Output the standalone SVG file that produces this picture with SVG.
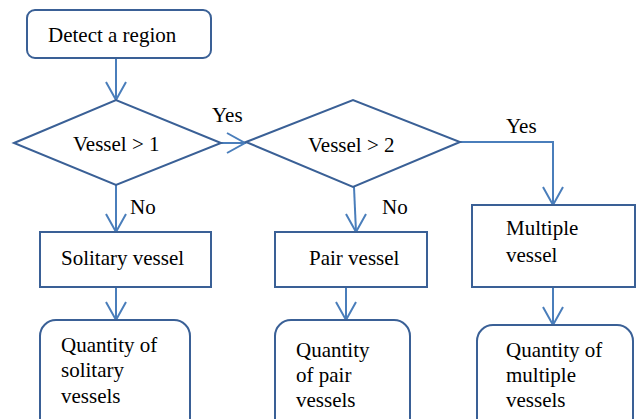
<svg xmlns="http://www.w3.org/2000/svg" width="636" height="419" viewBox="0 0 636 419">
<rect width="636" height="419" fill="#fff"/>
<g id="connectors" fill="none" stroke="#4A7EBB" stroke-width="2">
<line x1="116" y1="59" x2="116" y2="100"/>
<polyline points="106,82 116,100 126,82"/>
<line x1="221" y1="143" x2="246" y2="143"/>
<polyline points="227,133 245,143 227,153"/>
<line x1="116" y1="185" x2="116" y2="232"/>
<polyline points="106,214 116,232 126,214"/>
<polyline points="460,142 553,142 553,205"/>
<polyline points="543,187 553,205 563,187"/>
<line x1="354" y1="187" x2="356" y2="232"/>
<polyline points="346,214 356,232 366,214"/>
<line x1="116" y1="287" x2="116" y2="320"/>
<polyline points="106,302 116,320 126,302"/>
<line x1="346" y1="287" x2="346" y2="320"/>
<polyline points="336,302 346,320 356,302"/>
<line x1="553" y1="287" x2="553" y2="325"/>
<polyline points="543,307 553,325 563,307"/>
</g>
<g id="labels">
<text x="212" y="122" font-family="Times New Roman" font-size="21" style="font-family:Liberation Serif, Times New Roman, serif !important">Yes</text>
<text x="130" y="214" font-family="Times New Roman" font-size="21" style="font-family:Liberation Serif, Times New Roman, serif !important">No</text>
<text x="506" y="133" font-family="Times New Roman" font-size="21" style="font-family:Liberation Serif, Times New Roman, serif !important">Yes</text>
<text x="382" y="214" font-family="Times New Roman" font-size="21" style="font-family:Liberation Serif, Times New Roman, serif !important">No</text>
</g>
<g id="detect">
<rect x="27" y="10" width="184" height="48" rx="8" fill="#fff" stroke="#3A6096" stroke-width="2"/>
<text x="48" y="42" font-family="Times New Roman" font-size="21" style="font-family:Liberation Serif, Times New Roman, serif !important">Detect a region</text>
</g>
<g id="vessel1">
<polygon points="14,143 116,100 221,143 116,185" fill="#fff" stroke="#3A6096" stroke-width="2"/>
<text x="73" y="151" font-family="Times New Roman" font-size="21" style="font-family:Liberation Serif, Times New Roman, serif !important">Vessel &gt; 1</text>
</g>
<g id="vessel2">
<polygon points="246,142 353,100 460,142 353,187" fill="#fff" stroke="#3A6096" stroke-width="2"/>
<text x="308" y="152" font-family="Times New Roman" font-size="21" style="font-family:Liberation Serif, Times New Roman, serif !important">Vessel &gt; 2</text>
</g>
<g id="solitary">
<rect x="40" y="232" width="171" height="55" fill="#fff" stroke="#3A6096" stroke-width="2"/>
<text x="61" y="265" font-family="Times New Roman" font-size="21" style="font-family:Liberation Serif, Times New Roman, serif !important">Solitary vessel</text>
</g>
<g id="pair">
<rect x="275" y="232" width="152" height="55" fill="#fff" stroke="#3A6096" stroke-width="2"/>
<text x="309" y="265" font-family="Times New Roman" font-size="21" style="font-family:Liberation Serif, Times New Roman, serif !important">Pair vessel</text>
</g>
<g id="multiple">
<rect x="472" y="205" width="163" height="82" fill="#fff" stroke="#3A6096" stroke-width="2"/>
<text x="506" y="235" font-family="Times New Roman" font-size="21" style="font-family:Liberation Serif, Times New Roman, serif !important">Multiple</text>
<text x="506" y="262" font-family="Times New Roman" font-size="21" style="font-family:Liberation Serif, Times New Roman, serif !important">vessel</text>
</g>
<g id="qsolitary">
<rect x="40" y="320" width="150" height="120" rx="16" fill="#fff" stroke="#3A6096" stroke-width="2"/>
<text x="61" y="352" font-family="Times New Roman" font-size="21" style="font-family:Liberation Serif, Times New Roman, serif !important">Quantity of</text>
<text x="61" y="377" font-family="Times New Roman" font-size="21" style="font-family:Liberation Serif, Times New Roman, serif !important">solitary</text>
<text x="61" y="403" font-family="Times New Roman" font-size="21" style="font-family:Liberation Serif, Times New Roman, serif !important">vessels</text>
</g>
<g id="qpair">
<rect x="275" y="320" width="135" height="120" rx="16" fill="#fff" stroke="#3A6096" stroke-width="2"/>
<text x="296" y="357" font-family="Times New Roman" font-size="21" style="font-family:Liberation Serif, Times New Roman, serif !important">Quantity</text>
<text x="296" y="382" font-family="Times New Roman" font-size="21" style="font-family:Liberation Serif, Times New Roman, serif !important">of pair</text>
<text x="296" y="407" font-family="Times New Roman" font-size="21" style="font-family:Liberation Serif, Times New Roman, serif !important">vessels</text>
</g>
<g id="qmultiple">
<rect x="477" y="325" width="156" height="120" rx="16" fill="#fff" stroke="#3A6096" stroke-width="2"/>
<text x="506" y="357" font-family="Times New Roman" font-size="21" style="font-family:Liberation Serif, Times New Roman, serif !important">Quantity of</text>
<text x="506" y="382" font-family="Times New Roman" font-size="21" style="font-family:Liberation Serif, Times New Roman, serif !important">multiple</text>
<text x="506" y="407" font-family="Times New Roman" font-size="21" style="font-family:Liberation Serif, Times New Roman, serif !important">vessels</text>
</g>
</svg>
